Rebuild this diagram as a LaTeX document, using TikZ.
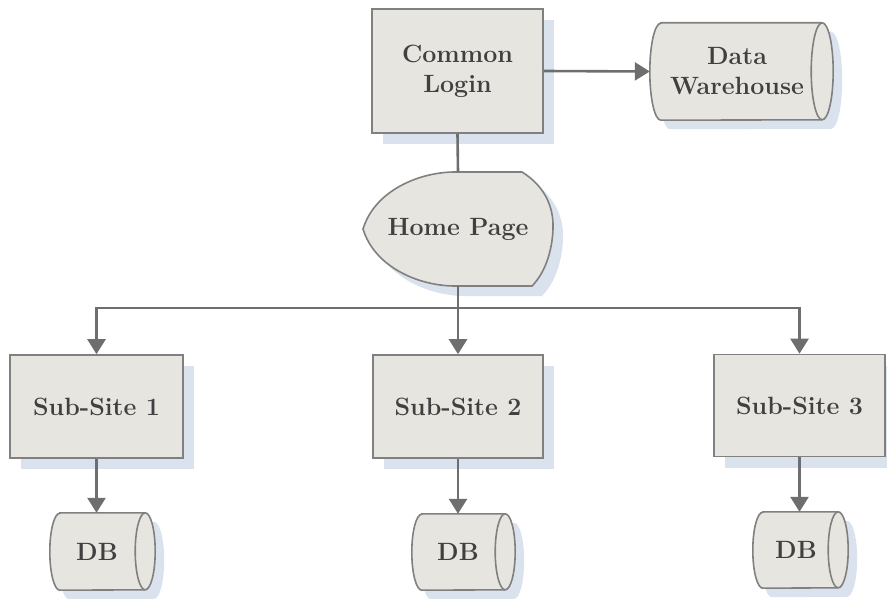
\documentclass[tikz,border=0pt]{standalone}
\usetikzlibrary{shadows,arrows.meta,calc}
\definecolor{boxfill}{RGB}{231,229,223}
\definecolor{boxline}{RGB}{128,128,128}
\definecolor{shadowc}{RGB}{218,226,238}
\definecolor{txt}{RGB}{64,64,64}
\definecolor{conn}{RGB}{110,110,110}
\tikzset{
  lbl/.style={text=txt,font=\fontsize{25}{30}\selectfont\bfseries,align=center},
  procbox/.style={lbl,rectangle,draw=boxline,line width=1.6pt,fill=boxfill,
    drop shadow={shadow xshift=11pt,shadow yshift=-11pt,fill=shadowc,opacity=1}},
  dbnode/.style={lbl,rectangle,draw=none,inner sep=0pt},
  outline/.style={draw=boxline,line width=1.6pt,fill=boxfill},
  conline/.style={draw=conn,line width=2.6pt},
  conarrow/.style={conline,-{Triangle[length=15pt,width=18pt]}},
}
% cylinder outline around a named node: #1 name, #2 x radius, #3 y radius
\newcommand\cylpath[3]{($(#1.north west)+(#2,0pt)$) -- ($(#1.north east)+(-#2,0pt)$)
  arc[start angle=90,end angle=-90,x radius=#2,y radius=#3]
  -- ($(#1.south west)+(#2,0pt)$)
  arc[start angle=270,end angle=90,x radius=#2,y radius=#3] -- cycle}
\newcommand\drawcyl[3]{%
  \fill[shadowc,transform canvas={xshift=9pt,yshift=-9pt}] \cylpath{#1}{#2}{#3};
  \path[outline] \cylpath{#1}{#2}{#3};
  \draw[boxline,line width=1.6pt] ($(#1.north east)+(-#2,0pt)$)
    arc[start angle=90,end angle=270,x radius=#2,y radius=#3];
}
\begin{document}
\begin{tikzpicture}[x=1pt,y=1pt]
\useasboundingbox (0,0) rectangle (887,-599);
% Common Login
\node[procbox,minimum width=171pt,minimum height=124pt] (cl) at (457.5,-71) {Common\\Login};
% Data warehouse
\node[dbnode,minimum width=183pt,minimum height=97pt] (dw) at (741.5,-71.5) {};
\drawcyl{dw}{11pt}{48.5pt}
\node[lbl] at (737,-71.5) {Data\\Warehouse};
% Home Page display shape
\fill[shadowc,shift={(10pt,-10pt)}] (363,-229) .. controls (375,-190) and (420,-172) .. (455,-172) -- (522,-172)
  .. controls (543,-185) and (554,-205) .. (553,-229) .. controls (552,-255) and (543,-275) .. (532,-286)
  -- (455,-286) .. controls (420,-286) and (375,-268) .. (363,-229) -- cycle;
\path[outline] (363,-229) .. controls (375,-190) and (420,-172) .. (455,-172) -- (522,-172)
  .. controls (543,-185) and (554,-205) .. (553,-229) .. controls (552,-255) and (543,-275) .. (532,-286)
  -- (455,-286) .. controls (420,-286) and (375,-268) .. (363,-229) -- cycle;
\node[lbl,minimum width=190pt,minimum height=114pt] (hp) at (458,-229) {Home Page};
% Sub-sites
\node[procbox,minimum width=173pt,minimum height=103pt] (s1) at (96.5,-406.5) {Sub-Site 1};
\node[procbox,minimum width=170pt,minimum height=103pt] (s2) at (458,-406.5) {Sub-Site 2};
\node[procbox,minimum width=171pt,minimum height=102pt] (s3) at (799.5,-405.5) {Sub-Site 3};
% DBs
\node[dbnode,minimum width=105pt,minimum height=77pt] (d1) at (102.5,-551.5) {};
\drawcyl{d1}{10pt}{38.5pt}
\node[lbl] at (97,-551.5) {DB};
\node[dbnode,minimum width=103pt,minimum height=76pt] (d2) at (463.5,-552) {};
\drawcyl{d2}{10pt}{38pt}
\node[lbl] at (458,-552) {DB};
\node[dbnode,minimum width=95pt,minimum height=76pt] (d3) at (800.5,-550) {};
\drawcyl{d3}{10pt}{38pt}
\node[lbl] at (796,-550) {DB};
% connectors
\coordinate (j) at (458,-308);
\draw[conarrow] (cl.east) -- (dw.west);
\draw[conline] (cl.south) -- (hp.north);
\draw[conline] (hp.south) -- (j);
\draw[conarrow] (j) -| (s1.north);
\draw[conarrow] (j) -- (s2.north);
\draw[conarrow] (j) -| (s3.north);
\draw[conarrow] (s1.south) -- (s1.south |- d1.north);
\draw[conarrow] (s2.south) -- (s2.south |- d2.north);
\draw[conarrow] (s3.south) -- (s3.south |- d3.north);
\end{tikzpicture}
\end{document}
